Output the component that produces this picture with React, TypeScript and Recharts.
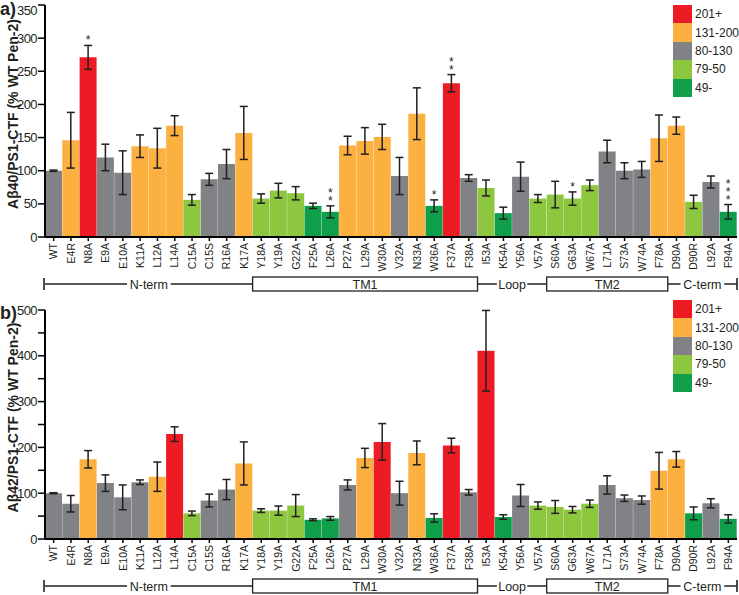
import { BarChart, Bar, XAxis, YAxis, Cell, ErrorBar, Legend, LabelList } from 'recharts';

const FONT = '"Liberation Sans", Arial, Helvetica, sans-serif';
const INK = '#231f20';

const mutants = [
    'WT', 'E4R', 'N8A', 'E9A', 'E10A', 'K11A', 'L12A', 'L14A', 'C15A', 'C15S',
    'R16A', 'K17A', 'Y18A', 'Y19A', 'G22A', 'F25A', 'L26A', 'P27A', 'L29A', 'W30A',
    'V32A', 'N33A', 'W36A', 'F37A', 'F38A', 'I53A', 'K54A', 'Y56A', 'V57A', 'S60A',
    'G63A', 'W67A', 'L71A', 'S73A', 'W74A', 'F78A', 'D90A', 'D90R', 'L92A', 'F94A',
];

// Abeta40 / PS1-CTF, % of WT
const ab40 = [
    100, 146, 271, 120, 97, 137, 134, 168, 56, 87,
    110, 157, 58, 70, 66, 47, 38, 138, 145, 151,
    92, 186, 47, 232, 89, 74, 36, 91, 58, 64,
    58, 78, 129, 100, 102, 149, 168, 53, 83, 38,
];
const err40 = [
    1, 42, 18, 20, 33, 17, 30, 15, 8, 9,
    22, 40, 7, 11, 10, 4, 9, 14, 20, 19,
    28, 39, 9, 13, 5, 12, 9, 22, 6, 20,
    10, 8, 17, 12, 12, 35, 13, 10, 9, 11,
];
const bin40 = [
    '80-130', '131-200', '201+', '80-130', '80-130', '131-200', '131-200', '131-200', '79-50', '80-130',
    '80-130', '131-200', '79-50', '79-50', '79-50', '49-', '49-', '131-200', '131-200', '131-200',
    '80-130', '131-200', '49-', '201+', '80-130', '79-50', '49-', '80-130', '79-50', '79-50',
    '79-50', '79-50', '80-130', '80-130', '80-130', '131-200', '131-200', '79-50', '80-130', '49-',
];
const stars40 = [
    '', '', '*', '', '', '', '', '', '', '',
    '', '', '', '', '', '', '**', '', '', '',
    '', '', '*', '**', '', '', '', '', '', '',
    '*', '', '', '', '', '', '', '', '', '***',
];

// Abeta42 / PS1-CTF, % of WT
const ab42 = [
    100, 77, 174, 122, 91, 124, 136, 229, 56, 84,
    108, 165, 62, 62, 73, 42, 45, 118, 177, 212,
    100, 188, 46, 204, 102, 411, 48, 95, 73, 70,
    64, 77, 118, 89, 85, 149, 174, 56, 78, 44,
];
const err42 = [
    1, 18, 19, 18, 27, 5, 32, 16, 5, 14,
    22, 47, 4, 10, 24, 2, 4, 11, 21, 40,
    26, 26, 9, 16, 6, 88, 5, 24, 8, 14,
    7, 8, 20, 7, 9, 40, 17, 14, 10, 9,
];
const bin42 = [
    '80-130', '80-130', '131-200', '80-130', '80-130', '80-130', '131-200', '201+', '79-50', '80-130',
    '80-130', '131-200', '79-50', '79-50', '79-50', '49-', '49-', '80-130', '131-200', '201+',
    '80-130', '131-200', '49-', '201+', '80-130', '201+', '49-', '80-130', '79-50', '79-50',
    '79-50', '79-50', '80-130', '80-130', '80-130', '131-200', '131-200', '49-', '80-130', '49-',
];
const stars42 = mutants.map(() => '');

const binLabels = ['201+', '131-200', '80-130', '79-50', '49-'];
const binColors: Record<string, string> = {
    '201+': '#ed1c24',
    '131-200': '#fbb040',
    '80-130': '#808285',
    '79-50': '#8dc63f',
    '49-': '#0f9f4b',
};

const domains = [
    { name: 'N-term', first: 'WT', last: 'K17A', kind: 'line' },
    { name: 'TM1', first: 'Y18A', last: 'F38A', kind: 'box' },
    { name: 'Loop', first: 'I53A', last: 'V57A', kind: 'line' },
    { name: 'TM2', first: 'S60A', last: 'F78A', kind: 'box' },
    { name: 'C-term', first: 'D90A', last: 'F94A', kind: 'line' },
];

const W = 739;
const AXIS_W = 45;
const RIGHT = 2;
const BAND = (W - AXIS_W - RIGHT) / mutants.length;

const MutantTick = (props: any) => {
    const { x, y, payload } = props;
    const i = mutants.indexOf(payload.value);
    const dom = domains.find(d => mutants.indexOf(d.first) === i);
    let mark = null;
    if (dom) {
        const count = mutants.indexOf(dom.last) - i + 1;
        const x0 = x - BAND / 2;
        const x1 = x0 + count * BAND;
        const yc = y + 41;
        const cx = (x0 + x1) / 2;
        const isFirst = i === 0;
        const isLast = mutants.indexOf(dom.last) === mutants.length - 1;
        if (dom.kind === 'box') {
            mark = (
                <g>
                    <rect x={x0} y={yc - 7} width={x1 - x0} height={14} fill="#fff" stroke={INK} strokeWidth={1.3} />
                    <text x={cx} y={yc + 1} textAnchor="middle" dominantBaseline="central" fontSize={12.5} fill={INK} fontFamily={FONT}>{dom.name}</text>
                </g>
            );
        } else {
            const tw = dom.name.length * 6.6 + 4;
            mark = (
                <g>
                    <line x1={x0} y1={yc} x2={x1} y2={yc} stroke={INK} strokeWidth={1.3} />
                    {isFirst && <line x1={x0 - 1} y1={yc - 6} x2={x0 - 1} y2={yc + 6} stroke={INK} strokeWidth={1.6} />}
                    {isLast && <line x1={x1} y1={yc - 6} x2={x1} y2={yc + 6} stroke={INK} strokeWidth={1.6} />}
                    <rect x={cx - tw / 2} y={yc - 7} width={tw} height={14} fill="#fff" />
                    <text x={cx} y={yc + 1} textAnchor="middle" dominantBaseline="central" fontSize={12.5} fill={INK} fontFamily={FONT}>{dom.name}</text>
                </g>
            );
        }
    }
    return (
        <g>
            <text
                transform={`translate(${x},${y}) rotate(-90)`}
                textAnchor="end"
                dy="0.35em"
                fontSize={10.5}
                fill={INK}
                fontFamily={FONT}
            >
                {payload.value}
            </text>
            {mark}
        </g>
    );
};

const ValueTick = (props: any) => {
    const { x, y, payload, labelStep } = props;
    if (payload.value % labelStep !== 0) return null;
    return (
        <text x={x} y={Math.max(y, 10)} textAnchor="end" dy="0.35em" fontSize={13} fill={INK} fontFamily={FONT} letterSpacing={-0.6}>
            {payload.value}
        </text>
    );
};

const YTitle = ({ viewBox, text }: any) => {
    const cy = viewBox.y + viewBox.height / 2 - 7;
    return (
        <text
            transform={`translate(13,${cy}) rotate(-90)`}
            textAnchor="middle"
            dy="0.35em"
            fontSize={14}
            fontWeight={700}
            fill={INK}
            fontFamily={FONT}
        >
            {text}
        </text>
    );
};

const BinLegend = () => (
    <div style={{ fontFamily: FONT, fontSize: 12, color: INK, whiteSpace: 'nowrap' }}>
        {binLabels.map(b => (
            <div key={b} style={{ display: 'flex', alignItems: 'center', height: 18.4 }}>
                <div style={{ width: 19, height: 18.4, background: binColors[b], flex: 'none' }} />
                <span style={{ marginLeft: 3 }}>{b}</span>
            </div>
        ))}
    </div>
);

type PanelProps = {
    values: number[];
    errors: number[];
    bins: string[];
    stars: string[];
    yMax: number;
    labelStep: number;
    title: string;
    height: number;
    top: number;
    bottom: number;
};

const Panel = ({ values, errors, bins, stars, yMax, labelStep, title, height, top, bottom }: PanelProps) => {
    const data = mutants.map((m, i) => ({ name: m, value: values[i], err: errors[i], stars: stars[i] }));
    const ticks: number[] = [];
    for (let t = 0; t <= yMax; t += 50) ticks.push(t);

    const renderStars = (p: any) => {
        const { x, y, width, height: h, index } = p;
        const row = data[index];
        if (!row || !row.stars) return null;
        const errTop = y - row.err * (h / row.value);
        const n = row.stars.length;
        const cx = x + width / 2;
        return (
            <text textAnchor="middle" fontSize={12} fill={INK} fontFamily={FONT}>
                {row.stars.split('').map((s, k) => (
                    <tspan key={k} x={cx} y={errTop - 1 - 8 * (n - 1 - k)}>{s}</tspan>
                ))}
            </text>
        );
    };

    return (
        <BarChart
            width={W}
            height={height}
            data={data}
            margin={{ top, right: RIGHT, bottom, left: 0 }}
            barCategoryGap={0}
            barGap={0}
        >
            <XAxis
                dataKey="name"
                interval={0}
                height={50}
                tickSize={4}
                tickMargin={2}
                tick={<MutantTick />}
                axisLine={{ stroke: '#000', strokeWidth: 2 }}
                tickLine={{ stroke: '#000', strokeWidth: 1.5 }}
            />
            <YAxis
                width={AXIS_W}
                domain={[0, yMax]}
                ticks={ticks}
                interval={0}
                tickSize={7}
                tickMargin={1}
                tick={<ValueTick labelStep={labelStep} />}
                axisLine={{ stroke: '#000', strokeWidth: 2 }}
                tickLine={{ stroke: '#000', strokeWidth: 1.5 }}
                label={<YTitle text={title} />}
            />
            <Legend
                layout="vertical"
                align="center"
                verticalAlign="middle"
                content={<BinLegend />}
                wrapperStyle={{ position: 'absolute', left: 673, top: 5, width: 66, height: 92 }}
            />
            <Bar dataKey="value" name="value" isAnimationActive={false}>
                {data.map((_, i) => (
                    <Cell key={i} fill={binColors[bins[i]]} />
                ))}
                <ErrorBar dataKey="err" width={4} stroke={INK} strokeWidth={1.5} isAnimationActive={false} />
                <LabelList dataKey="stars" content={renderStars} />
            </Bar>
        </BarChart>
    );
};

const App = () => {
    return (
        <div style={{ position: 'absolute', left: 0, top: 0, width: W, height: 595, background: '#fff' }}>
            <div style={{ position: 'absolute', left: 0, top: 0 }}>
                <Panel values={ab40} errors={err40} bins={bin40} stars={stars40} yMax={350} labelStep={50}
                    title="Aβ40/PS1-CTF (% WT Pen-2)" height={295} top={5} bottom={8} />
            </div>
            <div style={{ position: 'absolute', left: 0, top: 295 }}>
                <Panel values={ab42} errors={err42} bins={bin42} stars={stars42} yMax={500} labelStep={100}
                    title="Aβ42/PS1-CTF (% WT Pen-2)" height={300} top={15} bottom={6} />
            </div>
            <div style={{ position: 'absolute', left: 0, top: 0, lineHeight: '18px', fontFamily: FONT, fontWeight: 700, fontSize: 18, color: INK }}>a)</div>
            <div style={{ position: 'absolute', left: 0, top: 304, lineHeight: '18px', fontFamily: FONT, fontWeight: 700, fontSize: 18, color: INK }}>b)</div>
        </div>
    );
};

export default App;
